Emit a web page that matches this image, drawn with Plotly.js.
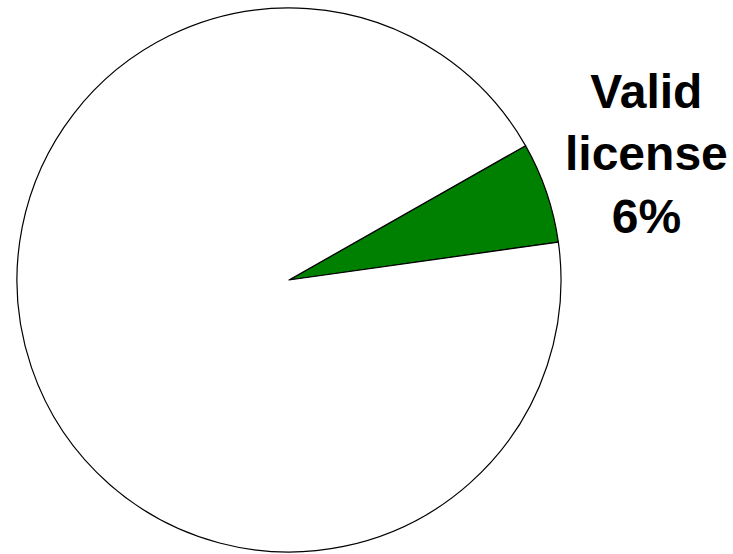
<!DOCTYPE html>
<html>
<head>
<meta charset="utf-8">
<script src="https://cdn.plot.ly/plotly-3.0.1.min.js"></script>
<style>html,body{margin:0;padding:0;background:#fff;}#chart{width:733px;height:554px;}</style>
</head>
<body>
<div id="chart"></div>
<script>
const labels = ["Valid license", "Other"];
const values = [6, 94];
const colors = ["#008000", "#ffffff"];

const data = [{
  type: "pie",
  labels: labels,
  values: values,
  sort: false,
  direction: "counterclockwise",
  rotation: 60.4,
  textinfo: "none",
  hoverinfo: "label+percent",
  marker: {colors: colors, line: {color: "#000000", width: 1.2}},
  domain: {x: [17/733, 561/733], y: [2/554, 546/554]},
  showlegend: false
}];

const total = values.reduce((a, b) => a + b, 0);
const pct = Math.round(values[0] / total * 100);
const labelText = labels[0].split(" ").join("<br>") + "<br>" + pct + "%";

const layout = {
  width: 733, height: 554,
  margin: {l: 0, r: 0, t: 0, b: 0},
  paper_bgcolor: "#ffffff",
  plot_bgcolor: "#ffffff",
  showlegend: false,
  annotations: [{
    xref: "paper", yref: "paper",
    x: 646/733, y: 1 - 154/554,
    xanchor: "center", yanchor: "middle",
    showarrow: false,
    align: "center",
    text: "<b>" + labelText + "</b>",
    font: {family: "Liberation Sans, Arial, sans-serif", size: 48, color: "#000000"}
  }]
};

Plotly.newPlot("chart", data, layout, {displayModeBar: false, staticPlot: true});
</script>
</body>
</html>
